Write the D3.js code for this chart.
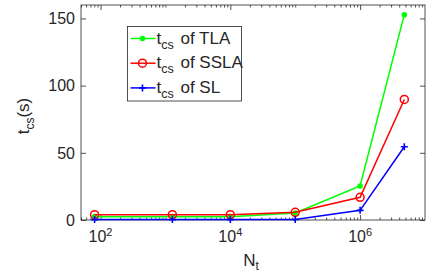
<!DOCTYPE html>
<html>
<head>
<meta charset="utf-8">
<script src="https://cdn.jsdelivr.net/npm/d3@7"></script>
<style>
  body { margin: 0; background: #fff; }
  text { font-family: "Liberation Sans", Arial, sans-serif; fill: #262626; }
</style>
</head>
<body>
<div id="chart"></div>
<script>
// values
let nt = [81, 1280, 10000, 100000, 1000000, 4800000];
let tla = [2.5, 2.5, 2.5, 5.2, 25.3, 152.8];
let ssla = [4.0, 4.0, 4.0, 5.7, 16.9, 89.7];
let sl = [0.3, 0.3, 0.3, 0.4, 7.2, 54.5];
let seriesNames = ["TLA", "SSLA", "SL"];
let yTicks = [0, 50, 100, 150];
let xMajor = [1e2, 1e4, 1e6];
let xMajorExp = [2, 4, 6];

let margin = { top: 5, right: 18, bottom: 56, left: 81 };
let width = 443 - margin.left - margin.right;
let height = 276 - margin.top - margin.bottom;

let svg = d3.select('#chart').append('svg')
    .attr('width', 443)
    .attr('height', 276);

let g = svg.append('g')
    .attr('transform', 'translate(' + margin.left + ',' + margin.top + ')');

let xScale = d3.scaleLog()
    .domain([50, 1e7])
    .range([0, width]);

let yScale = d3.scaleLinear()
    .domain([0, 160])
    .range([height, 0]);

// minor ticks for log axis
let xMinor = [];
for (let e = 1; e < 7; e++) {
    for (let k = 1; k < 10; k++) {
        let v = k * Math.pow(10, e);
        if (v >= 50 && v <= 1e7 && xMajor.indexOf(v) < 0) xMinor.push(v);
    }
}

function styleAxis(sel) {
    sel.select('.domain').remove();
    sel.selectAll('line').attr('stroke', '#262626').attr('stroke-width', 0.8);
    sel.selectAll('text').remove();
}

// bottom and top ticks (inward)
g.append('g').attr('transform', 'translate(0,' + height + ')')
    .call(d3.axisBottom(xScale).tickValues(xMajor).tickSize(-5).tickFormat(''))
    .call(styleAxis);
g.append('g').attr('transform', 'translate(0,' + height + ')')
    .call(d3.axisBottom(xScale).tickValues(xMinor).tickSize(-2.5).tickFormat(''))
    .call(styleAxis);
g.append('g')
    .call(d3.axisTop(xScale).tickValues(xMajor).tickSize(-5).tickFormat(''))
    .call(styleAxis);
g.append('g')
    .call(d3.axisTop(xScale).tickValues(xMinor).tickSize(-2.5).tickFormat(''))
    .call(styleAxis);

// left and right ticks
g.append('g')
    .call(d3.axisLeft(yScale).tickValues(yTicks).tickSize(-5).tickFormat(''))
    .call(styleAxis);
g.append('g').attr('transform', 'translate(' + width + ',0)')
    .call(d3.axisRight(yScale).tickValues(yTicks).tickSize(-5).tickFormat(''))
    .call(styleAxis);

// box
g.append('rect')
    .attr('width', width)
    .attr('height', height)
    .attr('fill', 'none')
    .attr('stroke', '#262626')
    .attr('stroke-width', 0.8);

// y tick labels
g.selectAll('.ylab').data(yTicks).enter().append('text')
    .attr('x', -6)
    .attr('y', d => yScale(d))
    .attr('dy', '0.36em')
    .attr('text-anchor', 'end')
    .style('font-size', '16px')
    .text(d => d);

// x tick labels 10^n
let xl = g.selectAll('.xlab').data(xMajor).enter().append('text')
    .attr('x', d => xScale(d))
    .attr('y', height + 22)
    .attr('text-anchor', 'middle')
    .style('font-size', '16px');
xl.append('tspan').text('10');
xl.append('tspan')
    .attr('dy', -6)
    .style('font-size', '11px')
    .text((d, i) => xMajorExp[i]);

// axis titles
let xt = g.append('text')
    .attr('x', 170)
    .attr('y', height + 46)
    .attr('text-anchor', 'middle')
    .style('font-size', '17px');
xt.append('tspan').text('N');
xt.append('tspan').attr('dy', 4).style('font-size', '12px').text('t');

let yt = svg.append('text')
    .attr('transform', 'translate(29,116) rotate(-90)')
    .attr('text-anchor', 'middle')
    .style('font-size', '17px');
yt.append('tspan').text('t');
yt.append('tspan').attr('dy', 5).style('font-size', '12px').text('cs');
yt.append('tspan').attr('dy', -5).text('(s)');

let line = d3.line()
    .x((d, i) => xScale(nt[i]))
    .y(d => yScale(d));

let colors = ['#00ff00', '#ff0000', '#0000ff'];
let allSeries = [tla, ssla, sl];

function drawMarker(sel, k) {
    if (k === 0) {
        sel.append('circle').attr('r', 2.8).attr('fill', colors[0]);
    } else if (k === 1) {
        sel.append('circle').attr('r', 4).attr('fill', 'none')
            .attr('stroke', colors[1]).attr('stroke-width', 1.5);
    } else {
        sel.append('path').attr('d', 'M-3.5,0H3.5M0,-3.5V3.5')
            .attr('stroke', colors[2]).attr('stroke-width', 1.6);
    }
}

allSeries.forEach(function (s, k) {
    g.append('path')
        .datum(s)
        .attr('d', line)
        .attr('fill', 'none')
        .attr('stroke', colors[k])
        .attr('stroke-width', 1.5);
    g.selectAll('.m' + k).data(s).enter().append('g')
        .attr('transform', (d, i) => 'translate(' + xScale(nt[i]) + ',' + yScale(d) + ')')
        .each(function () { drawMarker(d3.select(this), k); });
});

// legend
let legend = svg.append('g').attr('transform', 'translate(127.5,26.5)');
legend.append('rect')
    .attr('width', 114)
    .attr('height', 74.5)
    .attr('fill', '#fff')
    .attr('stroke', '#262626')
    .attr('stroke-width', 0.8);

seriesNames.forEach(function (name, k) {
    let row = legend.append('g').attr('transform', 'translate(0,' + (12 + k * 24.7) + ')');
    row.append('line')
        .attr('x1', 3).attr('x2', 28)
        .attr('stroke', colors[k]).attr('stroke-width', 1.5);
    drawMarker(row.append('g').attr('transform', 'translate(15,0)'), k);
    let t = row.append('text')
        .attr('x', 29)
        .attr('y', 5)
        .style('font-size', '17px');
    t.append('tspan').text('t');
    t.append('tspan').attr('dy', 5).style('font-size', '12.5px').text('cs');
    t.append('tspan').attr('dy', -5).attr('dx', 2).text(' of ' + name);
});
</script>
</body>
</html>
